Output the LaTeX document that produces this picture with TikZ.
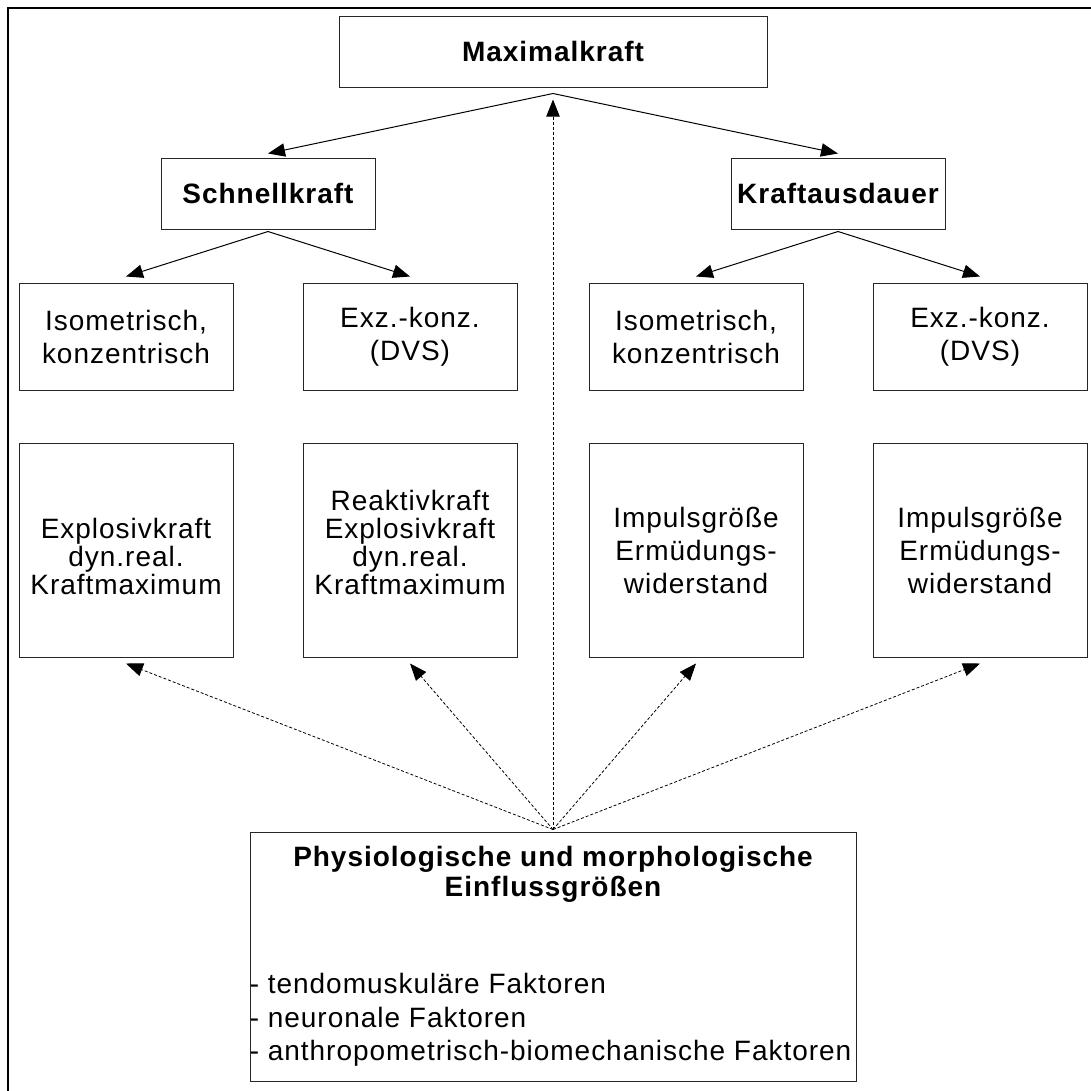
\documentclass[tikz,border=0pt]{standalone}
\usepackage{fontspec}
\setmainfont{Liberation Sans}[LetterSpace=3.5]
\usetikzlibrary{arrows.meta,calc}
\begin{document}
\begin{tikzpicture}[x=0.75pt,y=-0.75pt,
  txt/.style={font=\fontsize{21}{24.75}\selectfont},
  box/.style={draw=black!85, line width=0.75pt, inner sep=0pt, align=center, txt},
  head/.style={box, minimum width=160.5pt, minimum height=53.25pt, font=\fontsize{21}{24.75}\selectfont\bfseries},
  small/.style={box, minimum width=160.5pt, minimum height=80.25pt},
  tall/.style={box, minimum width=160.5pt, minimum height=160.5pt},
  tighttxt/.style={inner sep=0pt, align=center, anchor=north, font=\fontsize{21}{21}\selectfont},
  arr/.style={-{Triangle[length=12.75pt,width=10pt]}, line width=0.75pt},
  darr/.style={-{Triangle[length=12.75pt,width=10pt]}, line width=0.6pt, dash pattern=on 2.25pt off 1.5pt},
  line/.style={anchor=base, inner sep=0pt, txt}
]
\useasboundingbox (0,0) rectangle (1091,1090);
\fill[white] (0,0) rectangle (1091,1090);
\begin{scope}
\clip (0,0) rectangle (1091,1090);
\draw[line width=1.5pt] (1100,8) -- (8,8) -- (8,1100);
\end{scope}

\node[head, minimum width=321pt] (max) at (553,51.5) {Maximalkraft};
\node[head] (schnell) at (268,193.5) {Schnellkraft};
\node[head] (ausd) at (838,193.5) {Kraftausdauer};

\node[small] (iso1) at (126,336.5) {Isometrisch,\\konzentrisch};
\node[small] (exz1) at (410,336.5) {Exz.-konz.\\(DVS)};
\node[small] (iso2) at (696,336.5) {Isometrisch,\\konzentrisch};
\node[small] (exz2) at (980,336.5) {Exz.-konz.\\(DVS)};

\node[tall] (expl) at (126,550) {};
\node[tighttxt] (explt) at (126,517.6) {Explosivkraft\\dyn.real.\\Kraftmaximum};
\node[tall] (reak) at (410,550) {};
\node[tighttxt] (reakt) at (410,489.6) {Reaktivkraft\\Explosivkraft\\dyn.real.\\Kraftmaximum};
\node[tall] (imp1) at (696,550) {Impulsgröße\\Ermüdungs-\\widerstand};
\node[tall] (imp2) at (980,550) {Impulsgröße\\Ermüdungs-\\widerstand};

\node[box, minimum width=454.5pt, minimum height=186.75pt] (phys) at (553,956.5) {};
\node[line, font=\fontsize{21}{24.75}\selectfont\bfseries] (pt1) at (553,866) {Physiologische und morphologische};
\node[line, font=\fontsize{21}{24.75}\selectfont\bfseries] (pt2) at (553,896) {Einflussgrößen};
\node[line, anchor=base west] (pl1) at (phys.west |- 0,993) {- tendomuskuläre Faktoren};
\node[line, anchor=base west] (pl2) at (phys.west |- 0,1027) {- neuronale Faktoren};
\node[line, anchor=base west] (pl3) at (phys.west |- 0,1060) {- anthropometrisch-biomechanische Faktoren};

\coordinate (mtop) at ($(max.south)+(0,6)$);
\draw[arr] (mtop) -- ($(schnell.north)+(0,-4)$);
\draw[arr] (mtop) -- ($(ausd.north)+(0,-4)$);

\draw[arr] ($(schnell.south)+(0,2)$) -- ($(iso1.north)+(0,-6)$);
\draw[arr] ($(schnell.south)+(0,2)$) -- ($(exz1.north)+(0,-6)$);
\draw[arr] ($(ausd.south)+(0,2)$) -- ($(iso2.north)+(0,-6)$);
\draw[arr] ($(ausd.south)+(0,2)$) -- ($(exz2.north)+(0,-6)$);

\coordinate (ptop) at ($(phys.north)+(0,-2)$);
\draw[darr] (ptop) -- ($(max.south)+(0,12)$);
\draw[darr] (ptop) -- ($(expl.south)+(0,6)$);
\draw[darr] (ptop) -- ($(reak.south)+(0,6)$);
\draw[darr] (ptop) -- ($(imp1.south)+(0,6)$);
\draw[darr] (ptop) -- ($(imp2.south)+(0,6)$);
\end{tikzpicture}
\end{document}
